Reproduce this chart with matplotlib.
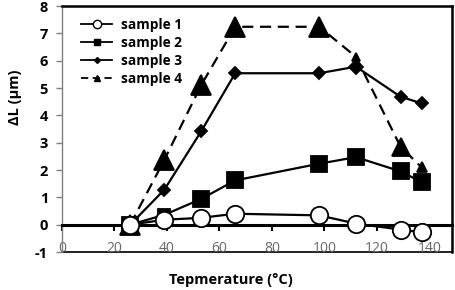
import matplotlib
matplotlib.use("Agg")
import matplotlib.pyplot as plt
from matplotlib.lines import Line2D

plt.rcParams['font.family'] = ['Open Sans', 'DejaVu Sans']

temps = [26, 39, 53, 66, 98, 112, 129, 137]
sample1 = [0.0, 0.18, 0.25, 0.40, 0.34, 0.04, -0.18, -0.28]
sample2 = [0.0, 0.36, 0.94, 1.62, 2.23, 2.47, 1.95, 1.56]
sample3 = [0.0, 1.28, 3.41, 5.54, 5.54, 5.78, 4.68, 4.44]
sample4 = [0.0, 2.37, 5.10, 7.24, 7.24, 6.14, 2.85, 2.10]
labels = ["sample 1", "sample 2", "sample 3", "sample 4"]
xticks = [0, 20, 40, 60, 80, 100, 120, 140]
yticks = [-1, 0, 1, 2, 3, 4, 5, 6, 7, 8]

# per-point marker sizes (style)
ms1 = [12.5] * 8
ms2 = [11, 8, 11, 11, 11, 11, 11, 11]
ms3 = [6, 6, 6, 6, 6, 7.5, 6, 6]
ms4 = [14, 14, 14, 14, 14, 6, 13, 7]

fig = plt.figure(figsize=(4.56, 2.90), dpi=100)
ax = fig.add_axes([62/456, 1-252/290, 390/456, 246/290])

series = [
    (sample1, 'o', 'white', '-', ms1, 4),
    (sample2, 's', 'black', '-', ms2, 3),
    (sample3, 'D', 'black', '-', ms3, 2),
    (sample4, '^', 'black', (0, (5, 3)), ms4, 1),
]
for ys, mk, fc, ls, ms, z in series:
    ax.plot(temps, ys, color='black', lw=1.6, ls=ls, zorder=z + 1)
    for x, y, m in zip(temps, ys, ms):
        ax.plot([x], [y], marker=mk, ms=m, mfc=fc, mec='black', mew=1.3,
                ls='none', zorder=z + 1.5, clip_on=False)

ax.set_xlim(0, 148.6)
ax.set_ylim(-1, 8)
ax.spines['bottom'].set_position(('data', 0))
ax.spines['bottom'].set_linewidth(2.2)
ax.spines['top'].set_linewidth(1.8)
ax.spines['right'].set_linewidth(1.8)
ax.spines['left'].set_color('#808080')
ax.spines['left'].set_linewidth(1.0)
ax.axhline(-1, color='#222222', lw=1.4, clip_on=False, zorder=0.5)

ax.set_xticks(xticks)
ax.set_xticklabels([str(t) for t in xticks], color='#666666', fontsize=10)
ax.tick_params(axis='x', direction='out', length=4, width=1.5, pad=8, color='black')
ax.set_yticks(yticks)
ax.set_yticklabels([str(t) for t in yticks], fontweight='bold', fontsize=10.5)
ax.tick_params(axis='y', direction='out', length=4, width=1, color='#808080', pad=6)

handles = [
    Line2D([], [], color='black', lw=1.3, marker='o', ms=6, mfc='white', mec='black'),
    Line2D([], [], color='black', lw=1.3, marker='s', ms=4.5, mfc='black', mec='black'),
    Line2D([], [], color='black', lw=1.3, marker='D', ms=3, mfc='black', mec='black'),
    Line2D([], [], color='black', lw=1.3, ls=(0, (4, 2.5)), marker='^', ms=5, mfc='black', mec='black'),
]
leg = ax.legend(handles, labels, loc='upper left', bbox_to_anchor=(0.035, 0.975),
                frameon=False, prop={'weight': 'bold', 'size': 9.8},
                handlelength=2.3, handletextpad=0.6, labelspacing=0.3, borderaxespad=0)

fig.text(231/456, 1-280/290, "Tepmerature (°C)", ha='center', va='center',
         fontsize=10.5, fontweight='bold')
fig.text(15/456, 1-97/290, "ΔL (μm)", ha='center', va='center', rotation=90,
         fontsize=10.5, fontweight='bold')

fig.savefig("out.png", dpi=100)
